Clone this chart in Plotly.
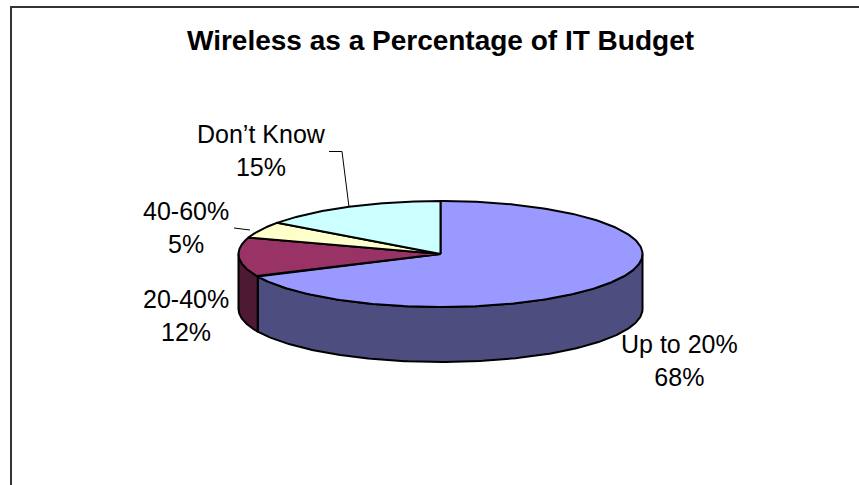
import numpy as np
import plotly.graph_objects as go

categories = ["Up to 20%", "20-40%", "40-60%", "Don\u2019t Know"]
shares = [68, 12, 5, 15]
top_colors = ["#9999FF", "#993366", "#FFFFCC", "#CCFFFF"]
side_colors = ["#4D4D80", "#4D1933", "#808066", "#668080"]
title_text = "Wireless as a Percentage of IT Budget"

# Pie geometry in page pixels
CX, CY, RX, RY, DEPTH = 440.5, 254.0, 202.0, 53.0, 55.0
EDGE = dict(color="black", width=2)


def rim(a0, a1, n=160):
    """Points on the top ellipse, angles in degrees clockwise from 12 o'clock."""
    t = np.radians(np.linspace(a0, a1, n))
    return CX + RX * np.sin(t), CY - RY * np.cos(t)


fig = go.Figure()

angle = 0.0
spans = []
for share in shares:
    spans.append((angle, angle + share * 3.6))
    angle += share * 3.6

# Outer wall: only the front half (90..270 degrees) is visible
for (a0, a1), color in zip(spans, side_colors):
    lo, hi = max(a0, 90.0), min(a1, 270.0)
    if lo >= hi:
        continue
    x, y = rim(lo, hi)
    fig.add_trace(go.Scatter(
        x=np.r_[x, x[::-1], x[0]], y=np.r_[y, y[::-1] + DEPTH, y[0]],
        mode="lines", fill="toself", fillcolor=color, line=EDGE,
        hoverinfo="skip", showlegend=False))

# Top face wedges
for (a0, a1), color, name in zip(spans, top_colors, categories):
    x, y = rim(a0, a1, 240)
    fig.add_trace(go.Scatter(
        x=np.r_[CX, x, CX], y=np.r_[CY, y, CY],
        mode="lines", fill="toself", fillcolor=color, line=EDGE,
        name=name, hoverinfo="name", showlegend=False))

# Leader lines for the two upper-left labels
leader = dict(color="black", width=1)
fig.add_trace(go.Scatter(x=[329, 342, 349], y=[151.5, 151.5, 207], mode="lines",
                         line=leader, hoverinfo="skip", showlegend=False))
fig.add_trace(go.Scatter(x=[234, 250], y=[228, 230], mode="lines",
                         line=leader, hoverinfo="skip", showlegend=False))

label_pos = [(679, 360.5), (186, 315), (186, 227), (261, 150.5)]
for (lx, ly), name, share in zip(label_pos, categories, shares):
    fig.add_annotation(x=lx, y=ly, text=f"{name}<br>{share}%", showarrow=False,
                       font=dict(family="Liberation Sans", size=25, color="black"),
                       align="center")

fig.add_annotation(x=440, y=40, text=f"<b>{title_text}</b>", showarrow=False,
                   font=dict(family="Liberation Sans", size=28, color="black"))

# Chart frame: open on the right and bottom
fig.add_trace(go.Scatter(x=[11, 11, 859], y=[485, 7, 7], mode="lines",
                         line=dict(color="#333333", width=2),
                         hoverinfo="skip", showlegend=False))

fig.update_layout(
    width=859, height=485, margin=dict(l=0, r=0, t=0, b=0),
    paper_bgcolor="white", plot_bgcolor="white", showlegend=False,
    xaxis=dict(range=[0, 859], visible=False, fixedrange=True),
    yaxis=dict(range=[485, 0], visible=False, fixedrange=True),
)

fig.write_html("out.html")
